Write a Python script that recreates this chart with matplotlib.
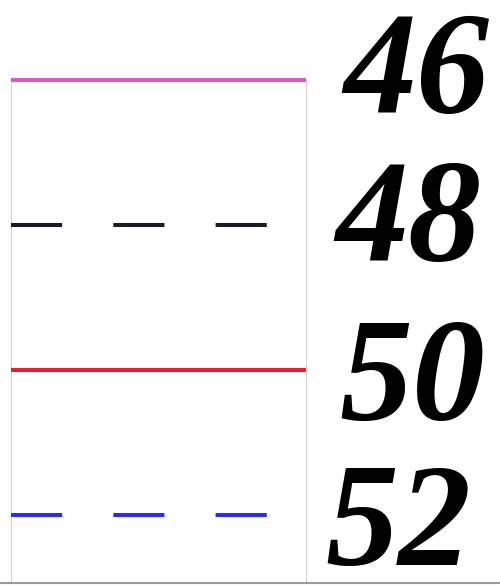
import matplotlib
matplotlib.use("Agg")
import matplotlib.pyplot as plt
import matplotlib.transforms as mtransforms
from matplotlib.lines import Line2D

# legend-like rows: value, colour, style
values = [46, 48, 50, 52]
labels = ["46", "48", "50", "52"]
colors = ["#d65ac8", "#1c1a22", "#ec1c2c", "#2a2cec"]
styles = ["solid", "dashed", "solid", "dashed"]
# small nudges (points) so the big numerals sit like the original
label_dx = [27, 21, 24, 14]
label_dy = [13, 11, 1, 1]

fig = plt.figure(figsize=(5, 5.85), dpi=100)
ax = fig.add_axes([0.022, 0.003, 0.59, 0.86])

for v, c, s in zip(values, colors, styles):
    if s == "dashed":
        ax.plot([0, 1], [v, v], color=c, lw=2.9, linestyle=(0, (12.7, 12.7)),
                clip_on=False, zorder=3)
    else:
        ax.plot([0, 1], [v, v], color=c, lw=2.9, solid_capstyle="butt",
                clip_on=False, zorder=3)

ax.set_xlim(0, 1)
ax.set_ylim(52.94, 46)
ax.set_xticks([])
ax.set_yticks([])

tr = ax.get_yaxis_transform()
for v, lab, dx, dy in zip(values, labels, label_dx, label_dy):
    off = mtransforms.offset_copy(tr, fig=fig, x=dx, y=dy, units="points")
    ax.text(1, v, lab, transform=off, ha="left", va="center_baseline",
            fontfamily="Liberation Serif", fontweight="bold", fontstyle="italic",
            fontsize=105, clip_on=False)

for side in ["left", "right", "top"]:
    ax.spines[side].set_color("#d4d4d4")
    ax.spines[side].set_linewidth(0.8)
ax.spines["bottom"].set_visible(False)

# grey edge along the bottom of the picture
fig.add_artist(Line2D([0, 1], [0.003, 0.003], color="#9a9a9a", lw=1.5))

fig.savefig("out.png", dpi=100)
